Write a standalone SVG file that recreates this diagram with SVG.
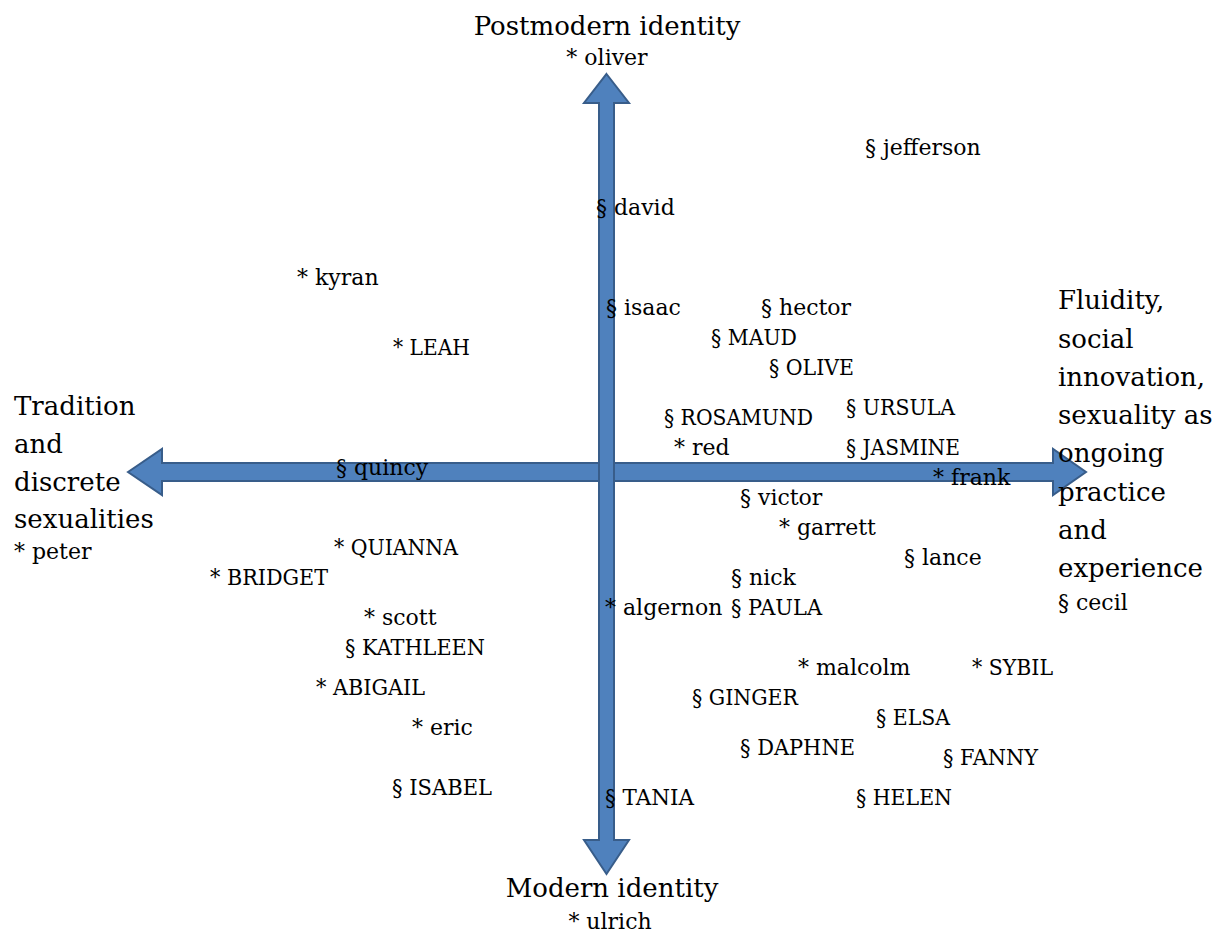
<svg xmlns="http://www.w3.org/2000/svg" width="1223" height="934" viewBox="0 0 1223 934">
<style>
.arrow{fill:#4F81BD;stroke:#385D8A;stroke-width:2;stroke-linejoin:miter}
text{font-family:"DejaVu Serif","Liberation Serif",serif;fill:#000}
.big{font-size:26px}
.sm{font-size:22px}
.mid{text-anchor:middle}
</style>
<rect width="1223" height="934" fill="#fff"/>
<g id="connectors">
<polygon id="axis-h" class="arrow" points="128,472 162,449 162,463 1053,463 1053,449 1086,472 1053,495 1053,481 162,481 162,495"/>
<polygon id="axis-v" class="arrow" points="606.5,74 629,103 614,103 614,840 629,840 606.5,874 584,840 599,840 599,103 584,103"/>
</g>
<g id="axis-labels">
<g id="top-label"><text class="big mid" x="607" y="35">Postmodern identity</text><text class="sm mid" x="607" y="65">* oliver</text></g>
<g id="bottom-label"><text class="big mid" x="612" y="897">Modern identity</text><text class="sm mid" x="610" y="929">* ulrich</text></g>
<g id="left-label"><text class="big" x="14" y="415">Tradition</text><text class="big" x="14" y="453">and</text><text class="big" x="14" y="491">discrete</text><text class="big" x="14" y="528">sexualities</text><text class="sm" x="14" y="559">* peter</text></g>
<g id="right-label"><text class="big" x="1058" y="309">Fluidity,</text><text class="big" x="1058" y="348">social</text><text class="big" x="1058" y="386">innovation,</text><text class="big" x="1058" y="424">sexuality as</text><text class="big" x="1058" y="462">ongoing</text><text class="big" x="1058" y="501">practice</text><text class="big" x="1058" y="539">and</text><text class="big" x="1058" y="577">experience</text><text class="sm" x="1058" y="610">§ cecil</text></g>
</g>
<g id="names">
<g id="n-jefferson"><text class="sm" x="865" y="155">§ jefferson</text></g>
<g id="n-david"><text class="sm" x="596" y="215">§ david</text></g>
<g id="n-kyran"><text class="sm" x="297" y="285">* kyran</text></g>
<g id="n-isaac"><text class="sm" x="606" y="315">§ isaac</text></g>
<g id="n-hector"><text class="sm" x="761" y="315">§ hector</text></g>
<g id="n-maud"><text class="sm" x="711" y="345" textLength="86" lengthAdjust="spacingAndGlyphs">§ MAUD</text></g>
<g id="n-leah"><text class="sm" x="393" y="355" textLength="77" lengthAdjust="spacingAndGlyphs">* LEAH</text></g>
<g id="n-olive"><text class="sm" x="769" y="375" textLength="85" lengthAdjust="spacingAndGlyphs">§ OLIVE</text></g>
<g id="n-rosamund"><text class="sm" x="664" y="425" textLength="149" lengthAdjust="spacingAndGlyphs">§ ROSAMUND</text></g>
<g id="n-ursula"><text class="sm" x="846" y="415" textLength="109" lengthAdjust="spacingAndGlyphs">§ URSULA</text></g>
<g id="n-red"><text class="sm" x="674" y="455">* red</text></g>
<g id="n-jasmine"><text class="sm" x="846" y="455" textLength="114" lengthAdjust="spacingAndGlyphs">§ JASMINE</text></g>
<g id="n-quincy"><text class="sm" x="336" y="475">§ quincy</text></g>
<g id="n-frank"><text class="sm" x="933" y="485">* frank</text></g>
<g id="n-victor"><text class="sm" x="740" y="505">§ victor</text></g>
<g id="n-garrett"><text class="sm" x="779" y="535">* garrett</text></g>
<g id="n-lance"><text class="sm" x="904" y="565">§ lance</text></g>
<g id="n-quianna"><text class="sm" x="334" y="555" textLength="124" lengthAdjust="spacingAndGlyphs">* QUIANNA</text></g>
<g id="n-bridget"><text class="sm" x="210" y="585" textLength="118" lengthAdjust="spacingAndGlyphs">* BRIDGET</text></g>
<g id="n-nick"><text class="sm" x="731" y="585">§ nick</text></g>
<g id="n-algernon"><text class="sm" x="605" y="615">* algernon</text></g>
<g id="n-paula"><text class="sm" x="731" y="615" textLength="91" lengthAdjust="spacingAndGlyphs">§ PAULA</text></g>
<g id="n-scott"><text class="sm" x="364" y="625">* scott</text></g>
<g id="n-kathleen"><text class="sm" x="345" y="655" textLength="140" lengthAdjust="spacingAndGlyphs">§ KATHLEEN</text></g>
<g id="n-malcolm"><text class="sm" x="798" y="675">* malcolm</text></g>
<g id="n-sybil"><text class="sm" x="972" y="675" textLength="81" lengthAdjust="spacingAndGlyphs">* SYBIL</text></g>
<g id="n-abigail"><text class="sm" x="316" y="695" textLength="109" lengthAdjust="spacingAndGlyphs">* ABIGAIL</text></g>
<g id="n-ginger"><text class="sm" x="692" y="705" textLength="106" lengthAdjust="spacingAndGlyphs">§ GINGER</text></g>
<g id="n-elsa"><text class="sm" x="876" y="725" textLength="74" lengthAdjust="spacingAndGlyphs">§ ELSA</text></g>
<g id="n-eric"><text class="sm" x="412" y="735">* eric</text></g>
<g id="n-daphne"><text class="sm" x="740" y="755" textLength="115" lengthAdjust="spacingAndGlyphs">§ DAPHNE</text></g>
<g id="n-fanny"><text class="sm" x="943" y="765" textLength="95" lengthAdjust="spacingAndGlyphs">§ FANNY</text></g>
<g id="n-isabel"><text class="sm" x="392" y="795" textLength="100" lengthAdjust="spacingAndGlyphs">§ ISABEL</text></g>
<g id="n-tania"><text class="sm" x="605" y="805" textLength="89" lengthAdjust="spacingAndGlyphs">§ TANIA</text></g>
<g id="n-helen"><text class="sm" x="856" y="805" textLength="96" lengthAdjust="spacingAndGlyphs">§ HELEN</text></g>
</g>
</svg>
